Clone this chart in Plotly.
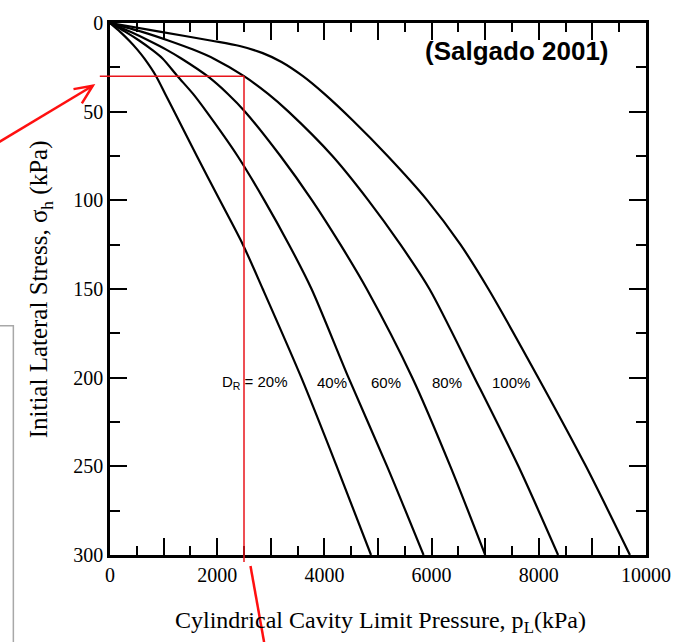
import plotly.graph_objects as go

# Initial lateral stress (kPa) vs cylindrical cavity limit pressure (kPa)
sigma_20 = [0, 5, 10, 15, 20, 30, 40, 50, 75, 100, 125, 150, 200, 250, 300]
pl_20 = [0, 190, 360, 510, 640, 860, 1030, 1200, 1620, 2050, 2480, 2850, 3570, 4230, 4870]

sigma_40 = [0, 5, 10, 15, 20, 30, 40, 50, 75, 100, 125, 150, 200, 250, 300]
pl_40 = [0, 290, 550, 780, 980, 1260, 1550, 1800, 2380, 2880, 3340, 3760, 4450, 5170, 5850]

sigma_60 = [0, 5, 10, 15, 20, 30, 40, 50, 75, 100, 125, 150, 200, 250, 300]
pl_60 = [0, 380, 730, 1050, 1330, 1820, 2200, 2520, 3180, 3770, 4300, 4790, 5640, 6350, 7000]

sigma_80 = [0, 5, 10, 15, 20, 30, 40, 50, 75, 100, 125, 150, 200, 250, 300]
pl_80 = [0, 600, 1100, 1550, 1930, 2500, 2950, 3330, 4150, 4820, 5420, 5960, 6800, 7620, 8360]

sigma_100 = [0, 5, 10, 13, 17, 22, 30, 40, 55, 75, 100, 125, 150, 200, 250, 300]
pl_100 = [0, 950, 1900, 2420, 2850, 3200, 3600, 4000, 4530, 5180, 5920, 6540, 7060, 7990, 8880, 9700]

curve_labels = ["D<sub>R</sub> = 20%", "40%", "60%", "80%", "100%"]
label_x = [2714, 4145, 5149, 6283, 7472]
label_sigma = 203

x_labelled = [0, 2000, 4000, 6000, 8000, 10000]
x_labels = ["0", "2000", "4000", "6000", "8000", "10000"]
x_unlabelled = [1000, 3000, 5000, 7000, 9000]
x_minor = [500, 1500, 2500, 3500, 4500, 5500, 6500, 7500, 8500, 9500]
y_ticks = [0, 50, 100, 150, 200, 250, 300]
y_labels = ["0", "50", "100", "150", "200", "250", "300"]
y_minor = [25, 75, 125, 175, 225, 275]

# worked example
example_sigma = 30
example_pl = 2500

X_MAX = 10000
Y_MAX = 300

fig = go.Figure()
for s, p in [(sigma_20, pl_20), (sigma_40, pl_40), (sigma_60, pl_60),
             (sigma_80, pl_80), (sigma_100, pl_100)]:
    fig.add_trace(go.Scatter(
        x=p, y=s, mode="lines",
        line=dict(color="black", width=2.2, shape="spline", smoothing=0.8),
        hoverinfo="skip",
    ))
# empty trace that carries the overlay axis for the long unlabelled ticks
fig.add_trace(go.Scatter(x=[], y=[], xaxis="x2", yaxis="y", mode="lines",
                         hoverinfo="skip"))

for text, xv in zip(curve_labels, label_x):
    fig.add_annotation(
        x=xv, y=label_sigma, xref="x", yref="y", text=text, showarrow=False,
        font=dict(family="Liberation Sans", size=15, color="black"),
        xanchor="center", yanchor="middle",
    )


def px_(v):
    return v / X_MAX


def py_(v):
    return 1 - v / Y_MAX


red = "#e8141b"
shapes = []
# guide lines for the worked example
shapes.append(dict(type="line", xref="paper", yref="paper",
                   x0=px_(-190), x1=px_(example_pl),
                   y0=py_(example_sigma), y1=py_(example_sigma),
                   line=dict(color=red, width=1.5)))
shapes.append(dict(type="line", xref="paper", yref="paper",
                   x0=px_(example_pl), x1=px_(example_pl),
                   y0=py_(example_sigma), y1=py_(304),
                   line=dict(color=red, width=1.5)))
# pointer below the axis
shapes.append(dict(type="line", xref="paper", yref="paper",
                   x0=0.2621, x1=0.2900, y0=-0.0206, y1=-0.178,
                   line=dict(color="#ff1010", width=2.5)))
# arrow at the left pointing at sigma = 30
shapes.append(dict(type="line", xref="paper", yref="paper",
                   x0=-0.215, x1=-0.0321, y0=0.7712, y1=0.8820,
                   line=dict(color="#ff1010", width=2.5)))
shapes.append(dict(type="path", xref="paper", yref="paper",
                   path="M -0.0681,0.8757 L -0.0321,0.8820 L -0.0525,0.8488",
                   line=dict(color="#ff1010", width=2.5)))
# grey frame edge on the left
shapes.append(dict(type="path", xref="paper", yref="paper",
                   path="M -0.215,0.4307 L -0.1803,0.4307 L -0.1803,-0.17",
                   line=dict(color="#a8a8a8", width=1.5)))

fig.update_layout(shapes=shapes)

fig.add_annotation(
    x=0.759, y=0.9476, xref="paper", yref="paper", text="<b>(Salgado 2001)</b>",
    showarrow=False, font=dict(family="Liberation Sans", size=26, color="black"),
    xanchor="center", yanchor="middle",
)
fig.add_annotation(
    x=0.504, y=-0.1255, xref="paper", yref="paper",
    text="Cylindrical Cavity Limit Pressure, p<sub>L</sub>(kPa)",
    showarrow=False, font=dict(family="Liberation Serif", size=24, color="black"),
    xanchor="center", yanchor="middle",
)
fig.add_annotation(
    x=-0.130, y=0.5, xref="paper", yref="paper",
    text="Initial Lateral Stress, σ<sub>h</sub> (kPa)", textangle=-90,
    showarrow=False, font=dict(family="Liberation Serif", size=25, color="black"),
    xanchor="center", yanchor="middle",
)

tick_font = dict(family="Liberation Serif", size=20, color="black")
fig.update_layout(
    xaxis=dict(
        range=[0, X_MAX], showline=True, linecolor="black", linewidth=2.5,
        mirror="ticks", ticks="inside", ticklen=17, tickwidth=2, tickcolor="black",
        tickvals=x_labelled, ticktext=x_labels, tickfont=tick_font,
        showgrid=False, zeroline=False,
        minor=dict(tickvals=x_minor, ticks="inside", ticklen=9, tickwidth=2,
                   tickcolor="black", showgrid=False),
    ),
    xaxis2=dict(
        range=[0, X_MAX], overlaying="x", anchor="y", side="bottom",
        showline=True, linecolor="black", linewidth=2.5,
        mirror="ticks", ticks="inside", ticklen=17, tickwidth=2, tickcolor="black",
        tickvals=x_unlabelled, showticklabels=False,
        showgrid=False, zeroline=False,
    ),
    yaxis=dict(
        range=[Y_MAX, 0], showline=True, linecolor="black", linewidth=2.5,
        mirror="ticks", ticks="inside", ticklen=17, tickwidth=2, tickcolor="black",
        tickvals=y_ticks, ticktext=y_labels, tickfont=tick_font,
        showgrid=False, zeroline=False,
        minor=dict(tickvals=y_minor, ticks="inside", ticklen=10, tickwidth=2,
                   tickcolor="black", showgrid=False),
    ),
    width=683, height=642,
    margin=dict(l=110, r=35, t=21, b=87),
    paper_bgcolor="white", plot_bgcolor="white",
    showlegend=False,
)

fig.write_html("out.html")
